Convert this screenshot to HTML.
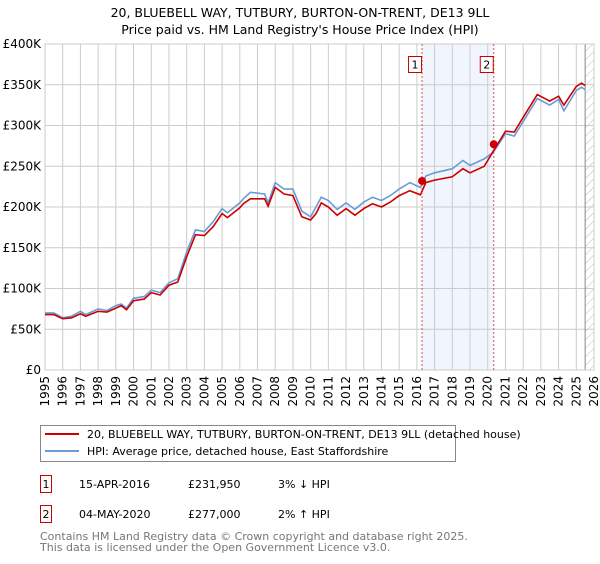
<!DOCTYPE html>
<html><head><meta charset="utf-8"><style>
body{margin:0;background:#fff;font-family:"DejaVu Sans","Liberation Sans",sans-serif;}
svg text{font-family:"DejaVu Sans","Liberation Sans",sans-serif;}
</style></head><body>
<svg id="chart" width="600" height="560" xmlns="http://www.w3.org/2000/svg">
<defs><pattern id="hatch" width="6" height="6" patternUnits="userSpaceOnUse" patternTransform="rotate(45)"><line x1="0" y1="0" x2="0" y2="6" stroke="#bbb" stroke-width="1"/></pattern></defs>
<text x="300" y="17" text-anchor="middle" font-size="12.5">20, BLUEBELL WAY, TUTBURY, BURTON-ON-TRENT, DE13 9LL</text>
<text x="300" y="34" text-anchor="middle" font-size="12.5">Price paid vs. HM Land Registry's House Price Index (HPI)</text>
<g id="grid"></g><g id="marks"></g>
<rect x="40.5" y="425.5" width="415" height="36" fill="#fff" stroke="#888"/>
<line x1="45" y1="434" x2="79" y2="434" stroke="#cc0000" stroke-width="2"/>
<text x="87" y="438" font-size="11">20, BLUEBELL WAY, TUTBURY, BURTON-ON-TRENT, DE13 9LL (detached house)</text>
<line x1="45" y1="451" x2="79" y2="451" stroke="#6a9bd8" stroke-width="2"/>
<text x="87" y="455" font-size="11">HPI: Average price, detached house, East Staffordshire</text>
<g font-size="11">
<rect x="40.5" y="475.5" width="11" height="17" fill="#fff" stroke="#cc0000"/><text x="46" y="488" text-anchor="middle">1</text>
<text x="79" y="488">15-APR-2016</text><text x="188" y="488">£231,950</text><text x="278" y="488">3% ↓ HPI</text></g>
<g font-size="11">
<rect x="40.5" y="505.5" width="11" height="17" fill="#fff" stroke="#cc0000"/><text x="46" y="518" text-anchor="middle">2</text>
<text x="79" y="518">04-MAY-2020</text><text x="188" y="518">£277,000</text><text x="278" y="518">2% ↑ HPI</text></g>
<text x="40" y="540" font-size="11" fill="#777">Contains HM Land Registry data © Crown copyright and database right 2025.</text>
<text x="40" y="551" font-size="11" fill="#777">This data is licensed under the Open Government Licence v3.0.</text>
</svg>
<script>
const hpiYears=[1995,1995.5,1996,1996.5,1997,1997.3,1998,1998.5,1999,1999.3,1999.6,2000,2000.6,2001,2001.5,2002,2002.5,2003,2003.5,2004,2004.5,2005,2005.3,2006,2006.2,2006.6,2007.4,2007.6,2008,2008.5,2009,2009.5,2010,2010.3,2010.6,2011,2011.5,2012,2012.5,2013,2013.5,2014,2014.5,2015,2015.6,2016.2,2016.5,2017,2018,2018.6,2019,2019.8,2020.3,2021,2021.5,2022,2022.8,2023.5,2024,2024.3,2025,2025.3,2025.5];
const hpiValues=[70,70,64,66,72,68,75,73,79,81,76,88,90,98,95,107,112,145,172,170,182,198,193,205,210,218,216,205,230,222,222,195,188,200,212,208,197,205,197,206,212,208,214,222,230,224,238,242,247,257,251,259,267,290,287,305,333,325,332,318,343,347,344];
const priceValues=[68,68,63,64,69,66,72,71,76,79,74,85,87,95,92,104,108,139,166,165,176,192,187,199,204,210,210,201,224,216,214,188,184,192,205,200,190,198,190,198,204,200,206,214,220,215,230,233,237,247,242,250,268,293,292,310,338,330,336,325,348,352,349];
const saleYears=[2016.29,2020.34];
const saleValues=[231.95,277];
const yTicks=[0,50,100,150,200,250,300,350,400];
const yLabels=["£0","£50K","£100K","£150K","£200K","£250K","£300K","£350K","£400K"];
const xTicks=[1995,1996,1997,1998,1999,2000,2001,2002,2003,2004,2005,2006,2007,2008,2009,2010,2011,2012,2013,2014,2015,2016,2017,2018,2019,2020,2021,2022,2023,2024,2025,2026];
const X0=45,X1=594,Y0=370,Y1=44;
const x=v=>X0+(v-1995)/(2026-1995)*(X1-X0);
const y=v=>Y0-v/400*(Y0-Y1);
const NS="http://www.w3.org/2000/svg";
function mk(parent,tag,attrs){const e=document.createElementNS(NS,tag);for(const k in attrs)e.setAttribute(k,attrs[k]);parent.appendChild(e);return e;}
const g=document.getElementById('grid'),m=document.getElementById('marks');
let sh=mk(g,'rect',{x:x(saleYears[0]),y:Y1,width:x(saleYears[1])-x(saleYears[0]),height:Y0-Y1,fill:'#eef3fd',opacity:0.8});


let ht=mk(g,'rect',{x:x(2025.5),y:Y1,width:X1-x(2025.5),height:Y0-Y1,fill:'url(#hatch)'});


yTicks.forEach((t,i)=>{
 mk(g,'line',{x1:X0,x2:X1,y1:y(t),y2:y(t),stroke:'#ccc'});
 const tx=mk(g,'text',{x:X0-4,y:y(t)+4,'text-anchor':'end','font-size':12});
 tx.textContent=yLabels[i];
 
 
});
xTicks.forEach(t=>{
 mk(g,'line',{x1:x(t),x2:x(t),y1:Y1,y2:Y0,stroke:'#ccc'});
 const tx=mk(g,'text',{x:0,y:0,'text-anchor':'end','font-size':12,transform:`translate(${x(t)+4},${Y0+6}) rotate(-90)`});
 tx.textContent=t;
 
 
});
mk(g,'line',{x1:x(2025.5),x2:x(2025.5),y1:Y1,y2:Y0,stroke:'#888'});
mk(g,'rect',{x:X0,y:Y1,width:X1-X0,height:Y0-Y1,fill:'none',stroke:'#ccc'});
const pts=arr=>hpiYears.map((yr,i)=>x(yr).toFixed(1)+','+y(arr[i]).toFixed(1)).join(' ');
const hl=mk(m,'polyline',{points:pts(hpiValues),fill:'none',stroke:'#6a9bd8','stroke-width':1.6});


const pl=mk(m,'polyline',{points:pts(priceValues),fill:'none',stroke:'#cc0000','stroke-width':1.6});


saleYears.forEach((yr,i)=>{
 mk(m,'line',{x1:x(yr),x2:x(yr),y1:Y1,y2:Y0,stroke:'#e05050','stroke-dasharray':'2,2'});
 const c=mk(m,'circle',{cx:x(yr),cy:y(saleValues[i]),r:4,fill:'#cc0000'});
 
 
 const b=mk(m,'rect',{x:x(yr)-13.5,y:56.5,width:13,height:16,fill:'#fff',stroke:'#cc0000'});
 
 
 const t=mk(m,'text',{x:x(yr)-7,y:68.5,'text-anchor':'middle','font-size':11});
 t.textContent=String(i+1);
});
</script>
</body></html>
